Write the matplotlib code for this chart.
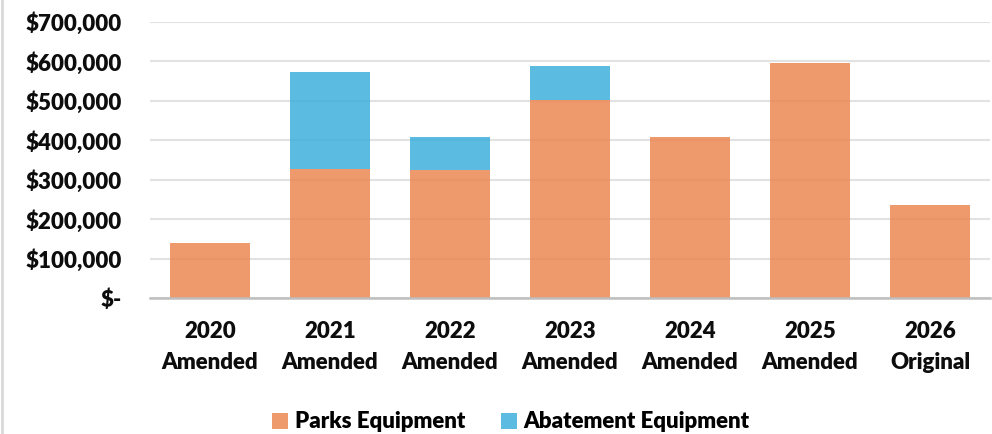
import matplotlib
matplotlib.use("Agg")
import matplotlib.pyplot as plt
from matplotlib.lines import Line2D
from matplotlib.ticker import FuncFormatter
import numpy as np

categories = ["2020\nAmended", "2021\nAmended", "2022\nAmended", "2023\nAmended",
              "2024\nAmended", "2025\nAmended", "2026\nOriginal"]
parks = [141000, 328000, 325000, 503000, 407000, 595000, 236000]
abatement = [0, 245000, 82000, 84000, 0, 0, 0]
series_names = ["Parks Equipment", "Abatement Equipment"]
yticks = [0, 100000, 200000, 300000, 400000, 500000, 600000, 700000]

plt.rcParams['font.family'] = ['Lato', 'DejaVu Sans']

fig = plt.figure(figsize=(9.92, 4.34), dpi=100)
ax = fig.add_axes([150/992, 1-298.3/434, 840/992, (298.3-21.7)/434])

orange = (235/255, 136/255, 84/255)
blue = (62/255, 175/255, 220/255)
x = np.arange(len(categories))
ax.bar(x, parks, width=0.667, color=orange, alpha=0.85, label=series_names[0], zorder=3)
ax.bar(x, abatement, width=0.667, bottom=parks, color=blue, alpha=0.85,
       label=series_names[1], zorder=3)

ax.set_xlim(-0.5, len(categories) - 0.5)
ax.set_ylim(0, 700000)
ax.set_yticks(yticks)
ax.yaxis.set_major_formatter(FuncFormatter(lambda v, p: "$-" if v == 0 else f"${v:,.0f}"))
ax.set_xticks(x)
ax.set_xticklabels(categories, linespacing=1.6)
ax.grid(axis='y', color='#e2e2e2', linewidth=1.5, zorder=1)
ax.set_axisbelow(True)
for s in ['top', 'right', 'left']:
    ax.spines[s].set_visible(False)
ax.spines['bottom'].set_color('#bfbfbf')
ax.spines['bottom'].set_linewidth(1.8)
ax.spines['bottom'].set_zorder(4)
ax.tick_params(axis='both', length=0, labelsize=16, labelcolor='#0d0d0d')
ax.tick_params(axis='y', pad=20)
ax.tick_params(axis='x', pad=16)
for lbl in ax.get_xticklabels() + ax.get_yticklabels():
    lbl.set_fontweight('heavy')

fig.legend(loc='center', bbox_to_anchor=(511/992, 1-422/434), ncol=2, frameon=False,
           prop={'weight': 'heavy', 'size': 16}, handlelength=0.72, handleheight=0.72,
           handletextpad=0.3, columnspacing=1.6)

fig.add_artist(Line2D([1.5/992, 1.5/992], [0, 1], color='#d9d9d9', linewidth=2,
                      transform=fig.transFigure))

fig.savefig("out.png", dpi=100)
